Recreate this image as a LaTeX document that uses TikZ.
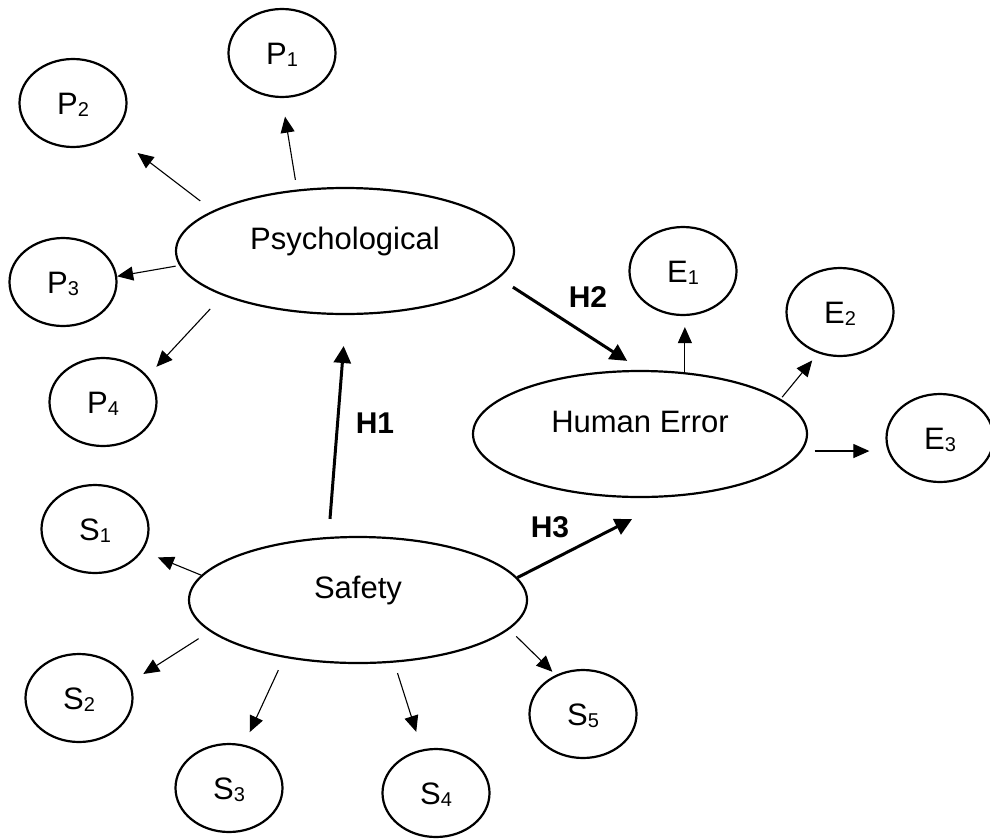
\documentclass[tikz,border=0pt]{standalone}
\usepackage{fontspec}
\setmainfont{Liberation Sans}
\usetikzlibrary{shapes.geometric,arrows.meta}
\newcommand{\subn}[1]{\raisebox{-2pt}{\fontsize{20}{20}\selectfont #1}}
\begin{document}
\begin{tikzpicture}[x=1pt,y=-1pt,
  smallell/.style={ellipse,draw,line width=2.2pt,minimum width=107pt,minimum height=88pt,inner sep=0pt,font=\fontsize{31}{31}\selectfont,text height=22pt,text depth=0pt},
  bigell/.style={ellipse,draw,line width=2.2pt,inner sep=0pt,minimum height=126pt,font=\fontsize{31}{31}\selectfont,text height=22pt,text depth=26pt},
  thinarr/.style={line width=1.1pt,-{Triangle[length=16pt,width=14pt]}},
  boldarr/.style={line width=3pt,-{Triangle[length=17pt,width=17pt]}},
  hlab/.style={font=\fontsize{30}{30}\selectfont\bfseries}]
\useasboundingbox (0,0) rectangle (990,838);
% nodes
\node[smallell] (p1) at (282,53) {P\subn{1}};
\node[smallell] (p2) at (73,103) {P\subn{2}};
\node[smallell] (p3) at (63,282) {P\subn{3}};
\node[smallell] (p4) at (103,402) {P\subn{4}};
\node[bigell,minimum width=338pt] (psy) at (345,251) {Psychological};
\node[smallell] (e1) at (683,271) {E\subn{1}};
\node[smallell] (e2) at (840,312) {E\subn{2}};
\node[bigell,minimum width=334pt] (he) at (640,434) {Human Error};
\node[smallell] (e3) at (940,438) {E\subn{3}};
\node[smallell] (s1) at (95,529) {S\subn{1}};
\node[bigell,minimum width=338pt] (saf) at (358,600) {Safety};
\node[smallell] (s2) at (79,698) {S\subn{2}};
\node[smallell] (s3) at (229,788) {S\subn{3}};
\node[smallell] (s4) at (436,793) {S\subn{4}};
\node[smallell] (s5) at (583,714) {S\subn{5}};
% psychological indicators
\draw[thinarr,shorten <=9.8pt,shorten >=18.8pt] (psy.128.3) -- (p1.-90);
\draw[thinarr,shorten <=16pt,shorten >=31.3pt] (psy.163.1) -- (p2.-38.4);
\draw[thinarr,shorten <=3.7pt] (psy.-175.8) -- (p3.6.2);
\draw[thinarr,shorten <=18.3pt,shorten >=12.8pt] (psy.-160.8) -- (p4.30.8);
% hypotheses
\draw[boldarr,shorten <=18pt,shorten >=31pt] (saf.115.8) -- (psy.-89.6);
\draw[boldarr,shorten <=16.5pt,shorten >=16.6pt] (psy.-10) -- (he.89.5);
\draw[boldarr,shorten >=49.5pt] (saf.8.2) -- (he.-60.3);
\node[hlab] (h1) at (375,423) {H1};
\node[hlab] (h2) at (588,297) {H2};
\node[hlab] (h3) at (550,527) {H3};
% error indicators
\draw[thinarr,shorten >=11pt] (he.54.5) -- (he.54.5 |- e1.south);
\draw[thinarr,shorten <=2.3pt,shorten >=9.2pt] (he.14.7) -- (e2.-118);
\draw[thinarr,shorten <=12.6pt,shorten >=16pt] (he.-6.8) -- (he.-6.8 -| e3.west);
% safety indicators
\draw[thinarr,shorten >=16.5pt] (saf.171.8) -- (s1.-25.3);
\draw[thinarr,shorten <=13.3pt,shorten >=15.5pt] (saf.-168.9) -- (s2.17.7);
\draw[thinarr,shorten <=13.7pt,shorten >=13.8pt] (saf.-142.2) -- (s3.71.9);
\draw[thinarr,shorten <=11pt,shorten >=18.5pt] (saf.-60.3) -- (s4.108.2);
\draw[thinarr,shorten <=10pt,shorten >=4.6pt] (saf.-11.9) -- (s5.125.4);
\end{tikzpicture}
\end{document}
